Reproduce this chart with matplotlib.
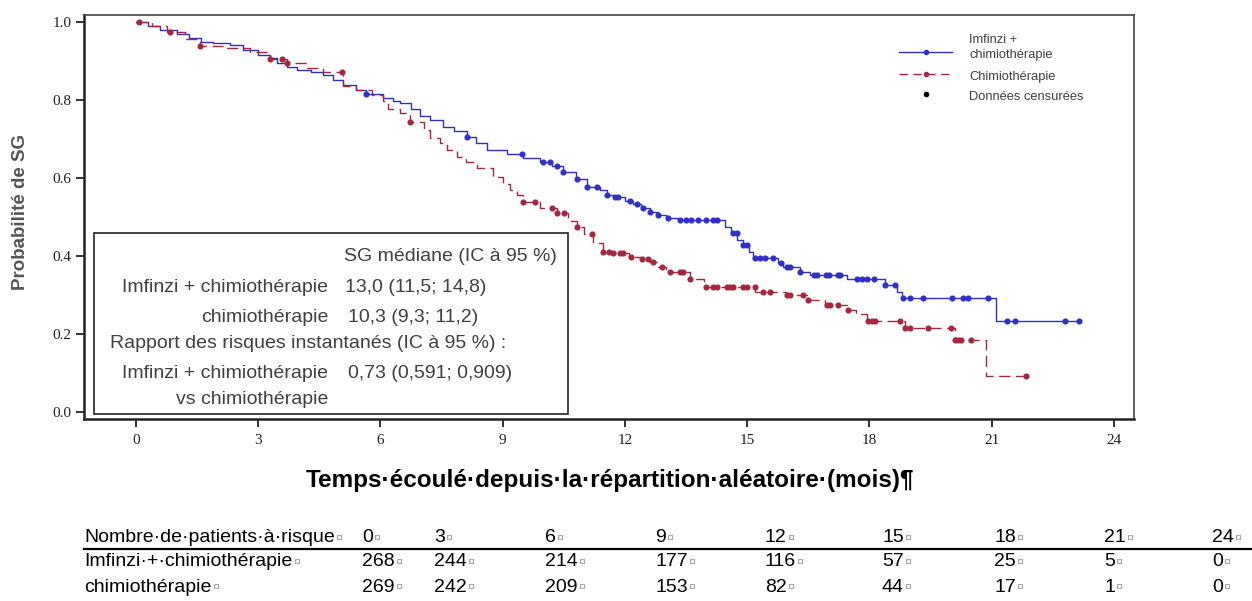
import numpy as np
import matplotlib
matplotlib.use("Agg")
import matplotlib.pyplot as plt
from matplotlib.lines import Line2D
from matplotlib.patches import Rectangle

W, H = 1252, 601

# Imfinzi + chimiotherapie : temps des evenements (mois) et survie apres le pas
t_imf = [0, 0.3, 0.6, 1.0, 1.3, 1.6, 1.9, 2.3, 2.64, 3.0, 3.3, 3.46, 3.7, 3.95, 4.3, 4.6,
         4.85, 5.09, 5.4, 5.66, 6.07, 6.3, 6.48, 6.75, 6.97, 7.22, 7.54, 7.8, 8.12, 8.35,
         8.61, 9.1, 9.51, 9.92, 10.2, 10.49, 10.8, 11.06, 11.39, 11.55, 11.71, 12.0, 12.2,
         12.4, 12.61, 12.8, 13.02, 13.3, 14.45, 14.6, 14.75, 14.9, 15.05, 15.15, 15.75,
         15.88, 16.3, 16.55, 17.45, 18.38, 18.67, 18.8, 21.1]
s_imf = [1.0, 0.99, 0.979, 0.968, 0.957, 0.949, 0.945, 0.94, 0.927, 0.915, 0.906, 0.893,
         0.885, 0.876, 0.87, 0.863, 0.85, 0.838, 0.826, 0.815, 0.804, 0.797, 0.791, 0.775,
         0.757, 0.748, 0.731, 0.72, 0.705, 0.69, 0.671, 0.66, 0.65, 0.641, 0.63, 0.616,
         0.597, 0.577, 0.569, 0.556, 0.552, 0.54, 0.532, 0.522, 0.513, 0.505, 0.496, 0.492,
         0.475, 0.458, 0.44, 0.428, 0.41, 0.394, 0.382, 0.371, 0.359, 0.351, 0.341, 0.325,
         0.308, 0.291, 0.233]
c_imf = [5.66, 8.12, 9.47, 10.0, 10.16, 10.33, 10.49, 10.82, 11.06, 11.31, 11.55, 11.76,
         11.84, 12.12, 12.3, 12.45, 12.62, 12.82, 13.06, 13.35, 13.51, 13.63, 13.8, 14.0,
         14.17, 14.25, 14.66, 14.74, 14.9, 14.99, 15.19, 15.31, 15.44, 15.64, 15.84, 15.97,
         16.05, 16.3, 16.63, 16.71, 16.94, 17.0, 17.24, 17.28, 17.69, 17.81, 17.93, 18.1,
         18.38, 18.63, 18.83, 19.0, 19.32, 20.02, 20.3, 20.42, 20.92, 21.37, 21.57, 22.8,
         23.13]

# Chimiotherapie seule
t_chi = [0, 0.4, 0.77, 1.2, 1.58, 2.2, 2.8, 3.3, 3.7, 4.2, 4.6, 5.09, 5.4, 5.8, 6.07, 6.2,
         6.48, 6.73, 7.06, 7.22, 7.46, 7.63, 7.87, 8.1, 8.36, 8.77, 9.0, 9.18, 9.35, 9.51,
         9.92, 10.33, 10.6, 10.82, 11.0, 11.22, 11.47, 11.71, 12.1, 12.4, 12.61, 12.8, 13.02,
         13.6, 13.95, 15.2, 15.95, 16.5, 16.9, 17.44, 17.68, 17.95, 18.87, 20.1, 20.85]
s_chi = [1.0, 0.99, 0.974, 0.955, 0.938, 0.932, 0.922, 0.904, 0.895, 0.88, 0.87, 0.836,
         0.825, 0.812, 0.797, 0.775, 0.765, 0.744, 0.722, 0.701, 0.688, 0.671, 0.654, 0.64,
         0.624, 0.603, 0.585, 0.569, 0.555, 0.539, 0.522, 0.509, 0.49, 0.475, 0.455, 0.432,
         0.411, 0.407, 0.398, 0.392, 0.383, 0.372, 0.358, 0.34, 0.319, 0.308, 0.30, 0.287,
         0.274, 0.261, 0.25, 0.233, 0.214, 0.184, 0.092]
c_chi = [0.07, 0.85, 1.58, 3.3, 3.59, 3.71, 5.05, 6.73, 9.51, 9.8, 10.2, 10.33, 10.5, 10.82,
         11.2, 11.47, 11.6, 11.71, 11.88, 11.96, 12.16, 12.41, 12.57, 12.69, 12.9, 13.1,
         13.35, 13.43, 13.6, 14.0, 14.17, 14.25, 14.5, 14.58, 14.66, 14.9, 14.99, 15.19,
         15.4, 15.56, 15.97, 16.05, 16.38, 16.5, 16.95, 17.03, 17.24, 17.48, 17.97, 18.05,
         18.14, 18.75, 18.87, 19.0, 19.44, 20.0, 20.1, 20.17, 20.25, 20.5, 21.85]

# patients a risque
risk_times = [0, 3, 6, 9, 12, 15, 18, 21, 24]
risk_imf = [268, 244, 214, 177, 116, 57, 25, 5, 0]
risk_chi = [269, 242, 209, 153, 82, 44, 17, 1, 0]

BLUE = "#3030c8"
RED = "#a3283f"
GREY = "#404040"
RED_DASH = (0, (8, 4))


def km(ax, t, s, cens, color, ls):
    t = np.array(t)
    s = np.array(s)
    cens = np.array(cens)
    tt = np.append(t, cens.max())
    ss = np.append(s, s[-1])
    ax.step(tt, ss, where="post", color=color, lw=1.0, ls=ls, zorder=3)
    idx = np.searchsorted(t, cens, side="right") - 1
    ax.plot(cens, s[idx], "o", color=color, ms=3.4, ls="none", zorder=4)


def fx(x):
    return x / W


def fy(y):
    return 1 - y / H


fig = plt.figure(figsize=(W / 100, H / 100), dpi=100)
ax = fig.add_axes([fx(84), fy(419), 1050 / W, 404 / H])

km(ax, t_imf, s_imf, c_imf, BLUE, "-")
km(ax, t_chi, s_chi, c_chi, RED, RED_DASH)

ax.set_xlim(-1.27, 24.49)
ax.set_ylim(-0.018, 1.017)
ax.set_xticks(risk_times)
ax.set_yticks([0.0, 0.2, 0.4, 0.6, 0.8, 1.0])
ax.set_yticklabels(["0.0", "0.2", "0.4", "0.6", "0.8", "1.0"])
for lab in ax.get_xticklabels() + ax.get_yticklabels():
    lab.set_fontfamily("Liberation Serif")
    lab.set_fontsize(11)
    lab.set_color("#222222")
ax.tick_params(axis="both", direction="out", length=6, width=1.3, color="#222222")
ax.tick_params(axis="x", pad=5)
ax.tick_params(axis="y", pad=3)
for side in ["left", "bottom"]:
    ax.spines[side].set_linewidth(1.8)
    ax.spines[side].set_color("#222222")
for side in ["top", "right"]:
    ax.spines[side].set_linewidth(1.2)
    ax.spines[side].set_color("#444444")

fig.text(fx(21), fy(212), "Probabilité de SG", rotation=90, ha="center", va="center",
         fontsize=13.5, fontweight="bold", color="#555555", family="Liberation Sans")

# legende dessinee a la main
lg_font = {"family": "Liberation Sans", "size": 9.3, "color": GREY}
lg_rows = [
    (52, BLUE, "-", "Imfinzi +\nchimiothérapie"),
    (74, RED, (0, (6, 4)), "Chimiothérapie"),
    (94, "black", "none", "Données censurées"),
]
for y, col, ls, lab in lg_rows:
    if ls != "none":
        fig.add_artist(Line2D([fx(899), fx(952)], [fy(y), fy(y)], color=col, lw=1.0, ls=ls))
    fig.add_artist(Line2D([fx(926)], [fy(y)], color=col, marker="o", ms=3, ls="none"))
    fig.text(fx(969), fy(y + 6), lab, ha="left", va="baseline", linespacing=1.3, **lg_font)

# encadre des resultats
box = Rectangle((fx(94), fy(414)), (568 - 94) / W, (414 - 233) / H,
                transform=fig.transFigure, facecolor="white", edgecolor="#222222",
                lw=1.2, zorder=5)
fig.patches.append(box)
fs = 14
ff = "Liberation Sans"
fig.text(fx(557), fy(256), "SG médiane (IC à 95 %)", ha="right", va="center",
         fontsize=fs, color=GREY, family=ff, zorder=6)
rows = [
    (287, "Imfinzi + chimiothérapie", "13,0 (11,5; 14,8)", 345),
    (317, "chimiothérapie", "10,3 (9,3; 11,2)", 348),
    (373, "Imfinzi + chimiothérapie", "0,73 (0,591; 0,909)", 348),
    (400, "vs chimiothérapie", "", 348),
]
for y, lab, val, xv in rows:
    fig.text(fx(328), fy(y), lab, ha="right", va="center", fontsize=fs, color=GREY,
             family=ff, zorder=6)
    if val:
        fig.text(fx(xv), fy(y), val, ha="left", va="center", fontsize=fs, color=GREY,
                 family=ff, zorder=6)
fig.text(fx(110), fy(344), "Rapport des risques instantanés (IC à 95 %) :", ha="left",
         va="center", fontsize=fs, color=GREY, family=ff, zorder=6)

# titre axe x
fig.text(fx(306), fy(481), "Temps·écoulé·depuis·la·répartition·aléatoire·(mois)¶",
         ha="left", va="center", fontsize=17.5, fontweight="bold", color="black",
         family=["Liberation Sans Narrow", "Liberation Sans"])

# tableau des patients a risque
renderer = fig.canvas.get_renderer()
tf = ["Liberation Sans Narrow", "Liberation Sans"]


def cell(x, y, s):
    t = fig.text(fx(x), fy(y), s, ha="left", va="center", fontsize=14, color="black",
                 family=tf)
    bb = t.get_window_extent(renderer)
    fig.text(bb.x1 / W + 0.0005, fy(y + 1), "¤", ha="left", va="center", fontsize=9,
             color="#9a9a9a", family="Liberation Sans")


col_x = [362, 434, 545, 655, 765, 882, 994, 1104, 1212]
table_rows = [
    (538, "Nombre·de·patients·à·risque", risk_times),
    (562, "Imfinzi·+·chimiothérapie", risk_imf),
    (587, "chimiothérapie", risk_chi),
]
for y, lab, vals in table_rows:
    cell(84, y, lab)
    for x, v in zip(col_x, vals):
        cell(x, y, str(v))
fig.add_artist(Line2D([fx(84), 1.0], [fy(549), fy(549)], color="black", lw=1.6))

fig.savefig("out.png", dpi=100)
